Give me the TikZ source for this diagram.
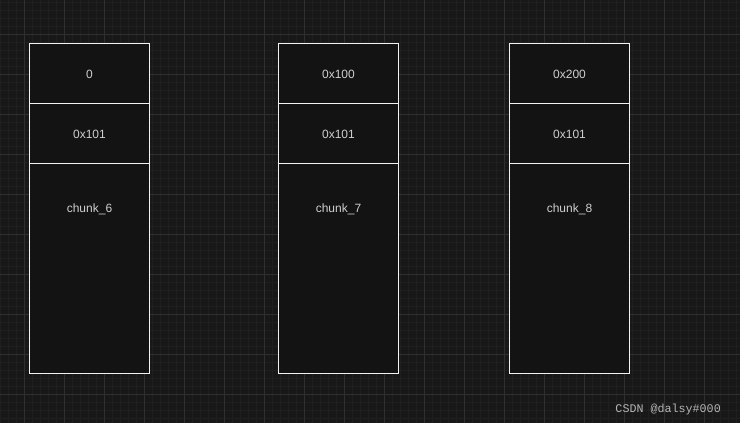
\documentclass[tikz,border=0pt]{standalone}
\usepackage{fontspec}
\setmainfont{Liberation Sans}
\newfontfamily\wmfont{Liberation Mono}
\definecolor{bg}{HTML}{181818}
\definecolor{minorgrid}{HTML}{1F1F1F}
\definecolor{majorgrid}{HTML}{2F2F2F}
\definecolor{boxfill}{HTML}{131313}
\definecolor{boxline}{HTML}{F2F2F2}
\definecolor{txt}{HTML}{CFCFCF}
\definecolor{wm}{HTML}{B5B5B5}
\tikzset{
  cell/.style={draw=boxline, fill=boxfill, line width=1pt, minimum width=120pt, inner sep=0pt, outer sep=0pt, anchor=north west},
  lbl/.style={text=txt, font=\fontsize{12}{14}\selectfont, inner sep=0pt},
}
\begin{document}
\begin{tikzpicture}[x=1pt,y=1pt]
\useasboundingbox (0,0) rectangle (740,423);
\fill[bg] (0,0) rectangle (740,423);
% minor grid
\foreach \x in {0.5,8.5,...,740} \draw[minorgrid, line width=0.8pt] (\x,0) -- (\x,423);
\foreach \y in {2.5,10.5,...,423} \draw[minorgrid, line width=0.8pt] (0,423-\y) -- (740,423-\y);
% major grid
\foreach \x in {24.5,64.5,...,740} \draw[majorgrid, line width=1pt] (\x,0) -- (\x,423);
\foreach \y in {34.5,74.5,...,423} \draw[majorgrid, line width=1pt] (0,423-\y) -- (740,423-\y);
% columns
\foreach \cx/\top/\name/\k in {29.5/0/a/6, 278.5/0x100/b/7, 509.5/0x200/c/8}{
  \node[cell, minimum height=60pt] (\name1) at (\cx,423-44) {};
  \node[cell, minimum height=60pt] (\name2) at (\cx,423-104) {};
  \node[cell, minimum height=210pt] (\name3) at (\cx,423-164) {};
  \node[lbl] (\name t1) at (\name1.center) {\top};
  \node[lbl] (\name t2) at (\name2.center) {0x101};
  \node[lbl, anchor=center] (\name t3) at ([yshift=-45pt]\name3.north) {chunk\_\k};
}
\node[text=wm, font=\wmfont\fontsize{11.7}{13}\selectfont, anchor=east, inner sep=0pt] (wmark) at (721,423-409.5) {CSDN @dalsy\#000};
\end{tikzpicture}
\end{document}
